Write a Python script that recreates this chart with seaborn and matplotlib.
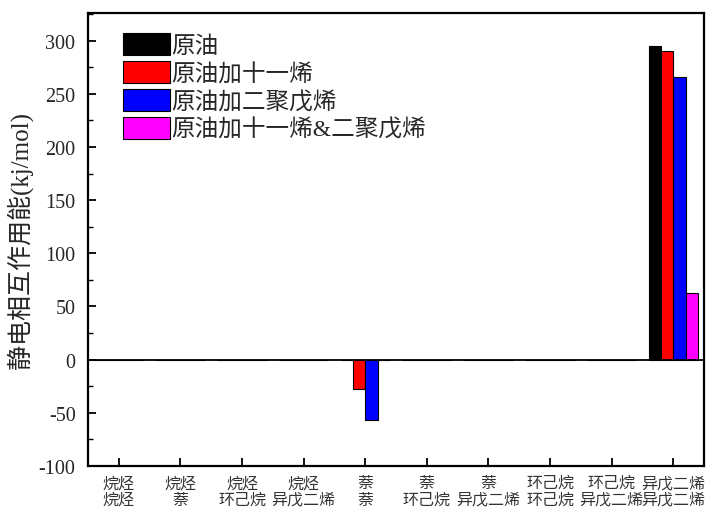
import matplotlib
matplotlib.use("Agg")
import matplotlib.pyplot as plt
from matplotlib.ticker import MultipleLocator
import seaborn as sns
import pandas as pd

categories = ["烷烃\n烷烃", "烷烃\n萘", "烷烃\n环己烷", "烷烃\n异戊二烯", "萘\n萘",
              "萘\n环己烷", "萘\n异戊二烯", "环己烷\n环己烷", "环己烷\n异戊二烯", "异戊二烯\n异戊二烯"]
series_names = ["原油", "原油加十一烯", "原油加二聚戊烯", "原油加十一烯&二聚戊烯"]
crude = [0, 0, 0, 0, 0, 0, 0, 0, 0, 295]
crude_undecene = [0, 0, 0, 0, -28, 0, 0, 0, 0, 290]
crude_dicyclopentene = [0, 0, 0, 0, -57, 0, 0, 0, 0, 266]
crude_both = [0, 0, 0, 0, 0, 0, 0, 0, 0, 63]
colors = ["#000000", "#ff0000", "#0000ff", "#ff00ff"]

rows = []
for name, vals in zip(series_names, [crude, crude_undecene, crude_dicyclopentene, crude_both]):
    for c, v in zip(categories, vals):
        rows.append({"cat": c, "series": name, "value": v})
df = pd.DataFrame(rows)

sns.set_style("ticks")
plt.rcParams["font.family"] = ["Liberation Serif", "Noto Sans CJK SC", "DejaVu Sans"]
plt.rcParams["axes.unicode_minus"] = False

fig = plt.figure(figsize=(7.22, 5.10), dpi=100)
ax = fig.add_axes([88 / 722, 1 - 467 / 510, (704 - 88) / 722, (467 - 14) / 510])

sns.barplot(data=df, x="cat", y="value", hue="series", order=categories,
            hue_order=series_names, palette=colors, ax=ax, width=0.8,
            edgecolor="black", linewidth=0.8, errorbar=None, saturation=1)

ax.axhline(0, color="black", lw=1.3, zorder=3)
ax.set_xlim(-0.5, len(categories) - 0.5)
ax.set_ylim(-100, 326)
ax.yaxis.set_major_locator(MultipleLocator(50))
ax.yaxis.set_minor_locator(MultipleLocator(25))
ax.set_xlabel("")
ax.set_ylabel("静电相互作用能(kj/mol)", fontsize=18, labelpad=4)

for s in ax.spines.values():
    s.set_visible(True)
    s.set_linewidth(1.6)
    s.set_color("black")

ax.tick_params(axis="both", which="both", direction="in", top=False, right=False, color="black")
ax.tick_params(axis="y", which="major", length=6, width=1.3, labelsize=14.5, pad=9)
ax.tick_params(axis="y", which="minor", length=3.5, width=1.0)
ax.tick_params(axis="x", which="major", length=6, width=1.3, labelsize=11.5, pad=6.5)
for lbl in ax.get_xticklabels():
    lbl.set_linespacing(1.05)
    lbl.set_color("#333333")

leg = ax.legend(loc="upper left", bbox_to_anchor=(0.057, 0.955), frameon=False,
                fontsize=17, handlelength=2.0, handleheight=1.05, handletextpad=0.04,
                labelspacing=0.16, borderpad=0, borderaxespad=0)

fig.savefig("out.png", dpi=100)
